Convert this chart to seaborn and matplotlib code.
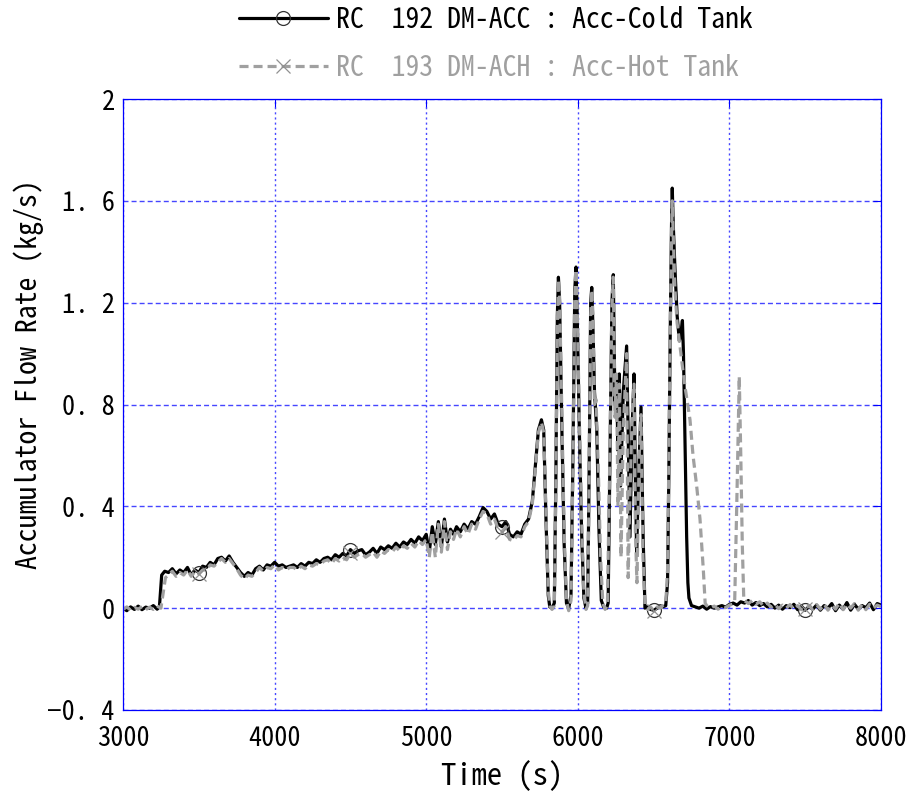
import matplotlib
matplotlib.use("Agg")
import matplotlib.pyplot as plt
import pandas as pd
import seaborn as sns

# Accumulator discharge, cold-leg tank (RC 192)
cold_time = [
    3000, 3025, 3050, 3075, 3100, 3125, 3150, 3175, 3200, 3225, 3240, 3255,
    3275, 3300, 3325, 3350, 3375, 3400, 3425, 3450, 3475, 3500, 3525, 3550,
    3575, 3600, 3625, 3650, 3675, 3700, 3725, 3750, 3775, 3800, 3825, 3850,
    3875, 3900, 3925, 3950, 3975, 4000, 4025, 4050, 4075, 4100, 4125, 4150,
    4175, 4200, 4225, 4250, 4275, 4300, 4325, 4350, 4375, 4400, 4425, 4450,
    4475, 4500, 4525, 4550, 4575, 4600, 4625, 4650, 4675, 4700, 4725, 4750,
    4775, 4800, 4825, 4850, 4875, 4900, 4925, 4950, 4975, 5000, 5020, 5040,
    5060, 5080, 5100, 5120, 5140, 5160, 5180, 5200, 5225, 5250, 5275, 5300,
    5325, 5350, 5375, 5400, 5425, 5450, 5475, 5500, 5525, 5550, 5575, 5600,
    5625, 5650, 5675, 5700, 5720, 5740, 5760, 5775, 5790, 5805, 5815, 5830,
    5845, 5855, 5865, 5872, 5880, 5895, 5910, 5925, 5940, 5955, 5968, 5980,
    5988, 5996, 6010, 6025, 6040, 6054, 6065, 6075, 6085, 6092, 6100, 6110,
    6125, 6140, 6155, 6170, 6190, 6200, 6212, 6225, 6234, 6245, 6255, 6265,
    6274, 6282, 6300, 6322, 6335, 6344, 6358, 6371, 6380, 6388, 6400, 6417,
    6430, 6443, 6460, 6480, 6500, 6525, 6545, 6560, 6580, 6592, 6600, 6610,
    6618, 6623, 6630, 6641, 6655, 6670, 6680, 6690, 6697, 6703, 6710, 6718,
    6726, 6733, 6750, 6775, 6800, 6825, 6850, 6875, 6900, 6925, 6950, 6975,
    7000, 7025, 7050, 7075, 7100, 7125, 7150, 7175, 7200, 7225, 7250, 7275,
    7300, 7325, 7350, 7375, 7400, 7425, 7450, 7475, 7500, 7525, 7550, 7575,
    7600, 7625, 7650, 7675, 7700, 7725, 7750, 7775, 7800, 7825, 7850, 7875,
    7900, 7925, 7950, 7975, 8000,
]
cold_flow = [
    0.000, -0.010, 0.005, -0.005, 0.008, -0.006, 0.004, 0.000, 0.010, -0.004, 0.005, 0.130,
    0.145, 0.140, 0.155, 0.135, 0.150, 0.140, 0.160, 0.130, 0.150, 0.140, 0.165, 0.160,
    0.180, 0.170, 0.195, 0.200, 0.185, 0.205, 0.180, 0.160, 0.140, 0.125, 0.140, 0.130,
    0.155, 0.165, 0.150, 0.170, 0.165, 0.180, 0.165, 0.170, 0.160, 0.165, 0.170, 0.160,
    0.175, 0.165, 0.180, 0.175, 0.190, 0.180, 0.195, 0.200, 0.190, 0.210, 0.200, 0.215,
    0.205, 0.230, 0.215, 0.225, 0.230, 0.210, 0.220, 0.235, 0.215, 0.240, 0.230, 0.245,
    0.235, 0.255, 0.240, 0.260, 0.250, 0.270, 0.255, 0.280, 0.265, 0.290, 0.220, 0.320,
    0.250, 0.340, 0.240, 0.350, 0.260, 0.310, 0.290, 0.320, 0.300, 0.330, 0.310, 0.340,
    0.330, 0.360, 0.395, 0.380, 0.350, 0.370, 0.330, 0.320, 0.340, 0.290, 0.280, 0.300,
    0.290, 0.330, 0.350, 0.420, 0.560, 0.700, 0.740, 0.700, 0.350, 0.050, 0.005, 0.000,
    0.020, 0.500, 1.150, 1.300, 1.200, 0.700, 0.250, 0.020, 0.000, 0.050, 0.600, 1.250,
    1.340, 1.150, 0.700, 0.300, 0.040, 0.000, 0.020, 0.550, 1.200, 1.260, 1.100, 0.850,
    0.700, 0.300, 0.030, 0.005, 0.000, 0.020, 0.600, 1.200, 1.310, 0.800, 0.900, 0.620,
    0.920, 0.480, 0.850, 1.030, 0.600, 0.280, 0.700, 0.920, 0.500, 0.220, 0.500, 0.790,
    0.300, 0.000, 0.005, -0.005, -0.008, 0.000, 0.010, 0.005, 0.010, 0.100, 0.500, 1.100,
    1.500, 1.650, 1.500, 1.330, 1.150, 1.050, 1.080, 1.130, 1.000, 0.800, 0.550, 0.280,
    0.100, 0.040, 0.010, 0.005, 0.000, 0.008, -0.004, 0.006, 0.000, 0.005, 0.010, 0.004,
    0.015, 0.020, 0.012, 0.025, 0.020, 0.030, 0.012, 0.022, 0.010, 0.018, 0.005, 0.015,
    0.000, 0.012, -0.004, 0.010, 0.002, 0.015, -0.006, 0.008, -0.008, 0.006, -0.004, 0.012,
    -0.008, 0.010, 0.000, 0.018, -0.010, 0.012, -0.004, 0.022, -0.008, 0.015, -0.004, 0.010,
    0.002, 0.020, -0.006, 0.018, 0.012,
]

# Accumulator discharge, hot-leg tank (RC 193)
hot_time = [
    3000, 3025, 3050, 3075, 3100, 3125, 3150, 3175, 3200, 3225, 3250, 3265,
    3280, 3300, 3325, 3350, 3375, 3400, 3425, 3450, 3475, 3500, 3525, 3550,
    3575, 3600, 3625, 3650, 3675, 3700, 3725, 3750, 3775, 3800, 3825, 3850,
    3875, 3900, 3925, 3950, 3975, 4000, 4025, 4050, 4075, 4100, 4125, 4150,
    4175, 4200, 4225, 4250, 4275, 4300, 4325, 4350, 4375, 4400, 4425, 4450,
    4475, 4500, 4525, 4550, 4575, 4600, 4625, 4650, 4675, 4700, 4725, 4750,
    4775, 4800, 4825, 4850, 4875, 4900, 4925, 4950, 4975, 5000, 5020, 5040,
    5060, 5080, 5100, 5120, 5140, 5160, 5180, 5200, 5225, 5250, 5275, 5300,
    5325, 5350, 5375, 5400, 5425, 5450, 5475, 5500, 5525, 5550, 5575, 5600,
    5625, 5650, 5675, 5700, 5720, 5740, 5760, 5775, 5790, 5805, 5815, 5830,
    5845, 5855, 5865, 5872, 5880, 5895, 5910, 5925, 5940, 5955, 5968, 5980,
    5988, 5996, 6010, 6025, 6040, 6054, 6065, 6075, 6085, 6092, 6100, 6110,
    6120, 6135, 6150, 6165, 6180, 6195, 6210, 6225, 6234, 6245, 6255, 6265,
    6274, 6285, 6300, 6322, 6332, 6344, 6360, 6371, 6380, 6390, 6405, 6417,
    6430, 6443, 6460, 6480, 6500, 6525, 6545, 6560, 6580, 6592, 6600, 6610,
    6618, 6623, 6630, 6641, 6655, 6674, 6690, 6707, 6725, 6740, 6760, 6784,
    6806, 6828, 6840, 6850, 6875, 6900, 6925, 6950, 6975, 7000, 7020, 7035,
    7050, 7065, 7075, 7085, 7095, 7110, 7125, 7150, 7175, 7200, 7225, 7250,
    7275, 7300, 7325, 7350, 7375, 7400, 7425, 7450, 7475, 7500, 7525, 7550,
    7575, 7600, 7625, 7650, 7675, 7700, 7725, 7750, 7775, 7800, 7825, 7850,
    7875, 7900, 7925, 7950, 7975, 8000,
]
hot_flow = [
    -0.005, 0.005, -0.008, 0.003, -0.004, 0.006, -0.006, 0.004, -0.005, 0.008, 0.000, 0.060,
    0.120, 0.130, 0.145, 0.125, 0.140, 0.130, 0.150, 0.125, 0.145, 0.135, 0.150, 0.150,
    0.170, 0.165, 0.180, 0.195, 0.180, 0.195, 0.175, 0.155, 0.130, 0.115, 0.130, 0.125,
    0.140, 0.160, 0.145, 0.160, 0.155, 0.170, 0.150, 0.160, 0.150, 0.160, 0.160, 0.150,
    0.165, 0.155, 0.170, 0.165, 0.175, 0.170, 0.185, 0.190, 0.175, 0.195, 0.185, 0.200,
    0.190, 0.215, 0.200, 0.210, 0.215, 0.200, 0.210, 0.220, 0.200, 0.225, 0.215, 0.230,
    0.220, 0.240, 0.225, 0.245, 0.235, 0.255, 0.240, 0.265, 0.250, 0.270, 0.200, 0.300,
    0.200, 0.330, 0.220, 0.340, 0.230, 0.300, 0.270, 0.310, 0.280, 0.320, 0.290, 0.330,
    0.310, 0.350, 0.380, 0.370, 0.330, 0.350, 0.310, 0.300, 0.320, 0.270, 0.265, 0.285,
    0.280, 0.320, 0.340, 0.410, 0.550, 0.690, 0.730, 0.690, 0.380, 0.070, 0.010, -0.005,
    0.010, 0.450, 1.100, 1.290, 1.220, 0.750, 0.300, 0.030, -0.010, 0.030, 0.550, 1.220,
    1.330, 1.180, 0.750, 0.350, 0.060, -0.005, 0.010, 0.500, 1.150, 1.250, 1.150, 0.800,
    0.820, 0.550, 0.200, 0.020, -0.005, 0.010, 0.550, 1.180, 1.300, 0.750, 0.920, 0.400,
    0.880, 0.200, 0.700, 1.000, 0.120, 0.450, 0.780, 0.880, 0.300, 0.100, 0.600, 0.760,
    0.200, 0.010, -0.005, 0.005, -0.010, 0.005, 0.000, 0.010, 0.020, 0.150, 0.550, 1.100,
    1.450, 1.600, 1.450, 1.250, 1.120, 1.030, 0.950, 0.870, 0.800, 0.740, 0.600, 0.480,
    0.350, 0.150, 0.020, 0.010, 0.000, 0.008, -0.004, 0.005, 0.002, 0.012, 0.015, 0.030,
    0.450, 0.910, 0.600, 0.250, 0.030, 0.025, 0.018, 0.030, 0.015, 0.025, 0.008, 0.020,
    0.004, 0.015, -0.002, 0.012, 0.000, 0.014, -0.004, 0.010, -0.006, -0.004, 0.010, -0.006,
    0.014, -0.004, 0.016, -0.008, 0.012, -0.004, 0.020, -0.006, 0.016, 0.000, 0.018, -0.008,
    0.014, -0.006, 0.015, 0.000, 0.012, 0.006,
]

marker_times = [3500, 4500, 5500, 6500, 7500]
series_labels = ["RC  192 DM-ACC : Acc-Cold Tank", "RC  193 DM-ACH : Acc-Hot Tank"]
x_ticks = [3000, 4000, 5000, 6000, 7000, 8000]
x_tick_labels = ["3000", "4000", "5000", "6000", "7000", "8000"]
y_ticks = [-0.4, 0.0, 0.4, 0.8, 1.2, 1.6, 2.0]
y_tick_labels = ["\u22120. 4", "0", "0. 4", "0. 8", "1. 2", "1. 6", "2"]

blue = "#0000ff"
grid_blue = "#4646ff"
gray = "#a0a0a0"

sns.set_theme(style="white")
plt.rcParams["font.family"] = ["Noto Sans Mono CJK JP", "Liberation Sans Narrow", "DejaVu Sans"]
plt.rcParams["lines.scale_dashes"] = False
plt.rcParams["grid.color"] = grid_blue
plt.rcParams["grid.linewidth"] = 1.0

cold = pd.DataFrame({"time": cold_time, "flow": cold_flow})
hot = pd.DataFrame({"time": hot_time, "flow": hot_flow})
cold_marks = [cold_time.index(t) for t in marker_times]
hot_marks = [hot_time.index(t) for t in marker_times]

fig = plt.figure(figsize=(9.14, 7.98), dpi=100)
ax = fig.add_axes([0.1346, 0.1103, 0.8293, 0.7656])

sns.lineplot(data=cold, x="time", y="flow", ax=ax, estimator=None, sort=False,
             color="black", linewidth=2.3, marker="o", markevery=cold_marks,
             markersize=10, markerfacecolor="none", markeredgecolor="#333333",
             markeredgewidth=0.9, label=series_labels[0], legend=False)
sns.lineplot(data=hot, x="time", y="flow", ax=ax, estimator=None, sort=False,
             color=gray, linewidth=2.3, linestyle=(0, (6.5, 3.6)), marker="x",
             markevery=hot_marks, markersize=10, markeredgecolor="#909090",
             markeredgewidth=0.9, label=series_labels[1], legend=False)

ax.set_xlim(x_ticks[0], x_ticks[-1])
ax.set_ylim(y_ticks[0], y_ticks[-1])
ax.set_xticks(x_ticks, x_tick_labels)
ax.set_yticks(y_ticks, y_tick_labels)
ax.tick_params(axis="both", which="both", direction="in", length=6, width=0.8,
               color=blue, labelsize=19, labelcolor="black", top=True, right=True)
ax.tick_params(axis="x", pad=10.5)
ax.tick_params(axis="y", pad=6)

ax.set_axisbelow(True)
ax.xaxis.grid(True, color=grid_blue, linewidth=1.0, linestyle=(0, (1.5, 2.2)))
ax.yaxis.grid(True, color=grid_blue, linewidth=1.0, linestyle=(0, (3.6, 2.2)))
for gl in ax.get_xgridlines() + ax.get_ygridlines():
    gl.set_color(grid_blue)
for side in ax.spines.values():
    side.set_color(blue)
    side.set_linewidth(0.9)

ax.set_xlabel("Time (s)", fontsize=22, color="black")
ax.set_ylabel("Accumulator Flow Rate (kg/s)", fontsize=20, color="black")
ax.xaxis.set_label_coords(0.5, -0.081)
ax.yaxis.set_label_coords(-0.104, 0.55)

leg = fig.legend(handles=ax.lines[:2], labels=series_labels, loc="center",
                 bbox_to_anchor=(0.5427, 0.945), frameon=False, fontsize=20,
                 handlelength=3.2, handletextpad=0.3, labelspacing=0.72,
                 borderpad=0.0, numpoints=1)
for text, colour in zip(leg.get_texts(), ["black", gray]):
    text.set_color(colour)

fig.savefig("out.png", dpi=100, facecolor="white")
